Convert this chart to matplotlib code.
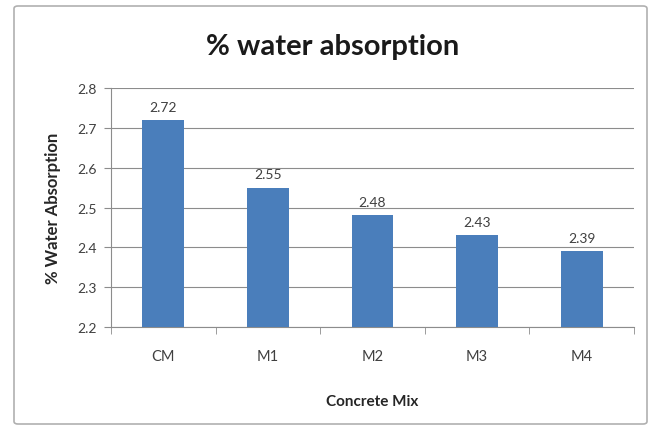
import matplotlib
matplotlib.use("Agg")
import matplotlib.pyplot as plt
from matplotlib.patches import FancyBboxPatch

mixes = ["CM", "M1", "M2", "M3", "M4"]
absorption = [2.72, 2.55, 2.48, 2.43, 2.39]
yticks = [2.2, 2.3, 2.4, 2.5, 2.6, 2.7, 2.8]

plt.rcParams["font.family"] = ["Lato", "DejaVu Sans"]
BLUE = "#4a7ebb"
GRID = "#8c8c8c"

W, H = 657, 431
fig = plt.figure(figsize=(W / 100, H / 100), dpi=100)
fig.patch.set_facecolor("white")

# chart border
fig.patches.append(FancyBboxPatch((14 / W, 6 / H), 633 / W, 418 / H,
                                  boxstyle="round,pad=0,rounding_size=0.006",
                                  transform=fig.transFigure, fill=False,
                                  edgecolor="#b0b0b0", linewidth=1.2))

ax = fig.add_axes([111 / W, 1 - 328 / H, (634 - 111) / W, (328 - 89) / H])
x = range(len(mixes))
ax.bar(x, absorption, width=0.4, color=BLUE, zorder=3)
for xi, v in zip(x, absorption):
    ax.text(xi, v + 0.018, f"{v:.2f}", ha="center", va="bottom",
            fontsize=10, color="#404040")

ax.set_ylim(2.2, 2.8)
ax.set_xlim(-0.5, len(mixes) - 0.5)
ax.set_yticks(yticks)
ax.set_yticklabels([f"{t:.1f}" for t in yticks], fontsize=10, color="#404040")
ax.yaxis.grid(True, color=GRID, linewidth=0.8)
ax.set_axisbelow(True)

ax.set_xticks(list(x))
ax.set_xticklabels(mixes, fontsize=10.5, color="#404040")
ax.tick_params(axis="x", length=0, pad=16)
ax.set_xticks([i - 0.5 for i in range(len(mixes) + 1)], minor=True)
ax.tick_params(axis="x", which="minor", length=5, color=GRID, direction="out")
ax.tick_params(axis="y", length=5, color=GRID, direction="out", pad=5)

for side in ["top", "right"]:
    ax.spines[side].set_visible(False)
ax.spines["left"].set_color(GRID)
ax.spines["bottom"].set_color(GRID)

ax.set_xlabel("Concrete Mix", fontsize=11, fontweight="bold", color="#262626", labelpad=22)
ax.set_ylabel("% Water Absorption", fontsize=12, fontweight="bold", color="#262626", labelpad=12)

fig.text(333 / W, 1 - 47 / H, "% water absorption", ha="center", va="center",
         fontsize=21, fontweight="bold", color="#1a1a1a")

fig.savefig("out.png", dpi=100)
